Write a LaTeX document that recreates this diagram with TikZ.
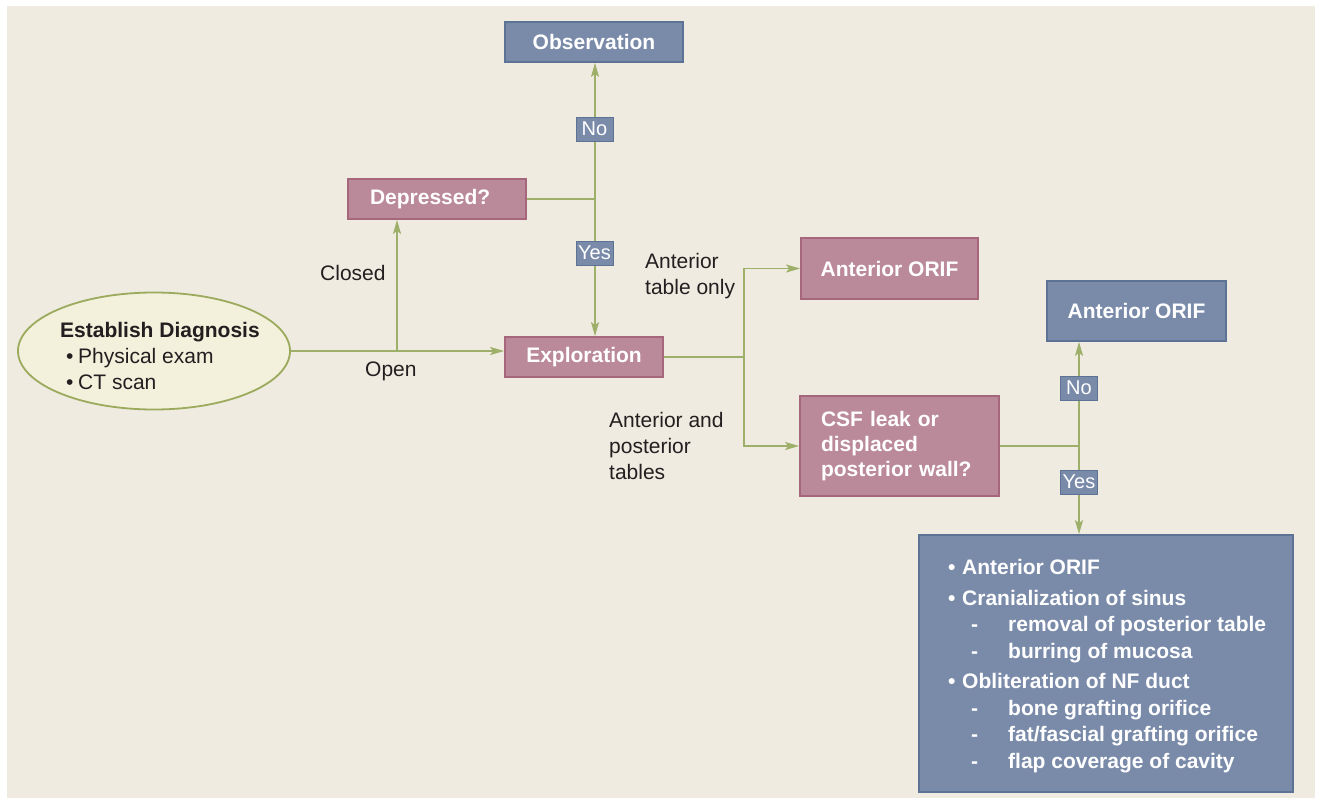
\documentclass[tikz,border=0pt]{standalone}
\usepackage{fontspec}
\setmainfont{Liberation Sans}
\usetikzlibrary{shapes.geometric,arrows.meta}
\definecolor{bg}{HTML}{EFEBE0}
\definecolor{pinkfill}{HTML}{BB8A9A}
\definecolor{pinkbd}{HTML}{A6677D}
\definecolor{bluefill}{HTML}{7A8BAA}
\definecolor{bluebd}{HTML}{5C7396}
\definecolor{ellfill}{HTML}{F3F0DC}
\definecolor{ellbd}{HTML}{9BAA5C}
\definecolor{linec}{HTML}{9DAF68}
\definecolor{textc}{HTML}{231F20}
\tikzset{
  pinkbox/.style={draw=pinkbd, fill=pinkfill, line width=1.8pt, text=white,
    font=\bfseries\fontsize{21}{25}\selectfont, inner sep=0pt},
  bluebox/.style={draw=bluebd, fill=bluefill, line width=1.8pt, text=white,
    font=\bfseries\fontsize{21}{25}\selectfont, inner sep=0pt},
  lab/.style={draw=bluebd, fill=bluefill, line width=0.8pt, text=white,
    font=\fontsize{20}{22}\selectfont, inner xsep=1.5pt, inner ysep=0pt,
    minimum width=37pt, minimum height=24pt},
  txt/.style={text=textc, font=\fontsize{21}{26}\selectfont, align=left,
    inner sep=0pt, anchor=west},
  conn/.style={draw=linec, line width=1.6pt},
  arr/.style={conn, -{Stealth[length=14pt,width=8pt,inset=3pt]}},
}
\begin{document}
\begin{tikzpicture}[x=1pt,y=-1pt]
\useasboundingbox (0,0) rectangle (1319,798);
\fill[white] (0,0) rectangle (1319,798);
\fill[bg] (7,6) rectangle (1315,798);

% nodes
\node[ellipse, draw=ellbd, fill=ellfill, line width=1.8pt, minimum width=272pt,
  minimum height=117pt, inner sep=0pt] (diag) at (154,351) {};
\node[txt] (diagtxt) at (60,356)
  {\textbf{Establish Diagnosis}\\
   \hspace*{6pt}\makebox[12pt][l]{•}Physical exam\\
   \hspace*{6pt}\makebox[12pt][l]{•}CT scan};

\node[bluebox, minimum width=178pt, minimum height=40pt] (obs) at (594,42) {Observation};
\node[pinkbox, minimum width=178pt, minimum height=40pt, text width=134pt,
  inner xsep=22pt, align=left] (dep) at (437,199) {Depressed?};
\node[pinkbox, minimum width=158pt, minimum height=40pt] (expl) at (584,357) {Exploration};
\node[pinkbox, minimum width=177pt, minimum height=61pt] (antp) at (889.5,268.5) {Anterior ORIF};
\node[pinkbox, minimum width=199pt, minimum height=100pt, text width=157pt,
  inner xsep=21pt, align=left] (csf) at (899.5,446)
  {CSF leak or\\displaced\\posterior wall?};
\node[bluebox, minimum width=179pt, minimum height=60pt] (antb) at (1136.5,311) {Anterior ORIF};
\node[bluebox, minimum width=374pt, minimum height=257pt] (big) at (1106,663.5) {};
\node[anchor=west, align=left, inner sep=0pt, text=white,
  font=\bfseries\fontsize{21}{26.5}\selectfont] (bigtxt) at (948,666)
  {\makebox[14pt][l]{•}Anterior ORIF\\[4pt]
   \makebox[14pt][l]{•}Cranialization of sinus\\
   \hspace*{23pt}\makebox[37pt][l]{-}removal of posterior table\\
   \hspace*{23pt}\makebox[37pt][l]{-}burring of mucosa\\[4pt]
   \makebox[14pt][l]{•}Obliteration of NF duct\\
   \hspace*{23pt}\makebox[37pt][l]{-}bone grafting orifice\\
   \hspace*{23pt}\makebox[37pt][l]{-}fat/fascial grafting orifice\\
   \hspace*{23pt}\makebox[37pt][l]{-}flap coverage of cavity};

% junction coordinates
\coordinate (cl) at (397,351);
\coordinate (j1) at (595,199);
\coordinate (j2) at (744,357);
\coordinate (j3) at (1079,446);

% connectors
\draw[arr] (diag.east) -- (diag.east -| expl.west);
\draw[arr] (cl) -- (cl |- dep.south);
\draw[conn] (dep.east) -- (j1);
\draw[arr] (j1) -- (j1 |- obs.south);
\draw[arr] (j1) -- (j1 |- expl.north);
\draw[conn] (expl.east) -- (j2);
\draw[arr] (j2) |- (antp.west);
\draw[arr] (j2) |- (csf.west);
\draw[conn] (csf.east) -- (j3);
\draw[arr] (j3) -- (j3 |- antb.south);
\draw[arr] (j3) -- (j3 |- big.north);

% branch labels
\node[lab] (no1) at (594.5,129) {No};
\node[lab] (yes1) at (594.5,253) {Yes};
\node[lab] (no2) at (1079,388) {No};
\node[lab] (yes2) at (1079,482) {Yes};

\node[txt] (closed) at (320,273) {Closed};
\node[txt] (open) at (365,371) {Open};
\node[txt] (antonly) at (645,276) {Anterior\\table only};
\node[txt] (antpost) at (609,446) {Anterior and\\posterior\\tables};
\end{tikzpicture}
\end{document}
